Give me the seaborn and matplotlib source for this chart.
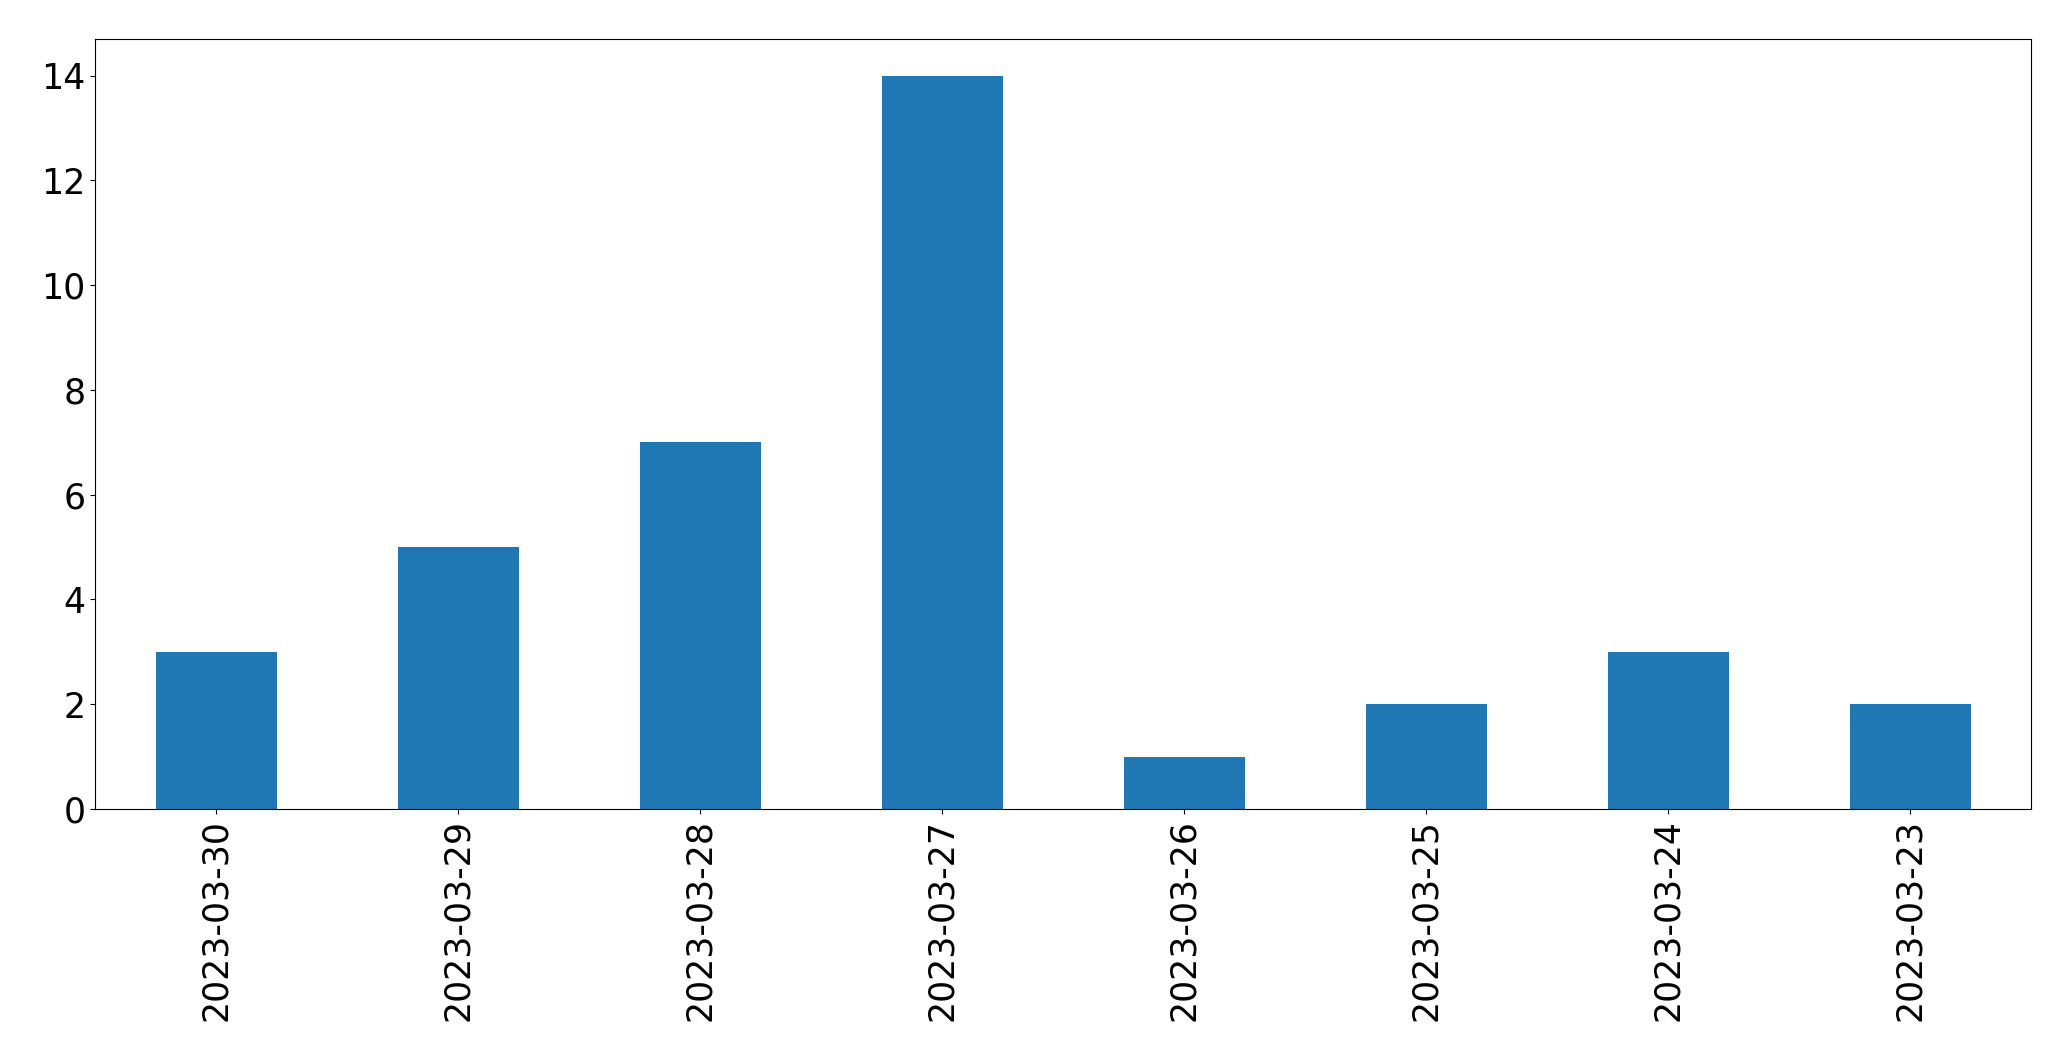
import matplotlib
matplotlib.use("Agg")
import matplotlib.pyplot as plt
import seaborn as sns
import pandas as pd

dates = ["2023-03-30", "2023-03-29", "2023-03-28", "2023-03-27",
         "2023-03-26", "2023-03-25", "2023-03-24", "2023-03-23"]
counts = [3, 5, 7, 14, 1, 2, 3, 2]

df = pd.DataFrame({"date": dates, "count": counts})

fig = plt.figure(figsize=(20.71, 10.61), dpi=100)
ax = fig.add_axes([0.0459, 0.2375, 0.9348, 0.7257])
sns.barplot(data=df, x="date", y="count", order=dates, color="#1f77b4",
            saturation=1, width=0.5, linewidth=0, ax=ax)
ax.set_xlim(-0.5, len(dates) - 0.5)
ax.set_ylim(0, max(counts) * 1.05)
ax.set_xlabel("")
ax.set_ylabel("")
ax.tick_params(axis="both", labelsize=25)
ax.tick_params(axis="x", labelrotation=90)

fig.savefig("out.png", dpi=100)
